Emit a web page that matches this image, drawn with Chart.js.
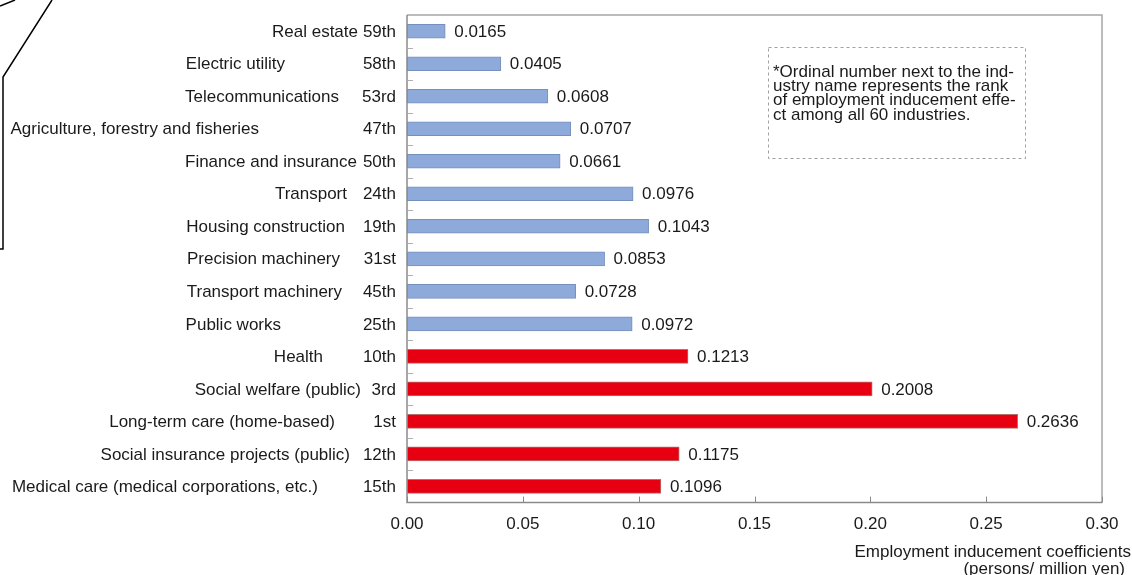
<!DOCTYPE html>
<html>
<head>
<meta charset="utf-8">
<script src="https://cdn.jsdelivr.net/npm/chart.js@4.4.1/dist/chart.umd.min.js"></script>
<style>
  html, body { margin: 0; padding: 0; background: #fff; }
  #wrap { position: relative; width: 1132px; height: 575px; }
</style>
</head>
<body>
<div id="wrap"><canvas id="chart" width="1132" height="575"></canvas></div>
<script>
/* Datos: coeficientes de inducción de empleo por industria */
const industries = [
  'Real estate', 'Electric utility', 'Telecommunications',
  'Agriculture, forestry and fisheries', 'Finance and insurance', 'Transport',
  'Housing construction', 'Precision machinery', 'Transport machinery',
  'Public works', 'Health', 'Social welfare (public)',
  'Long-term care (home-based)', 'Social insurance projects (public)',
  'Medical care (medical corporations, etc.)'
];
const ranks = ['59th', '58th', '53rd', '47th', '50th', '24th', '19th', '31st',
               '45th', '25th', '10th', '3rd', '1st', '12th', '15th'];
const coefficients = [0.0165, 0.0405, 0.0608, 0.0707, 0.0661, 0.0976, 0.1043,
                      0.0853, 0.0728, 0.0972, 0.1213, 0.2008, 0.2636, 0.1175, 0.1096];
const isCare = [false, false, false, false, false, false, false, false, false,
                false, true, true, true, true, true];
const xTicks = [0, 0.05, 0.10, 0.15, 0.20, 0.25, 0.30];
const axisTitle = ['Employment inducement coefficients', '(persons/ million yen)'];
const noteLines = [
  '*Ordinal number next to the ind-',
  'ustry name represents the rank',
  'of employment inducement effe-',
  'ct among all 60 industries.'
];

(function () {
  const FONT = "'Liberation Sans', Arial, sans-serif";
  const TEXT = '#1a1a1a';

  // fin (borde derecho) de cada nombre, como en el original
  const nameEnds = [358, 285, 339, 259, 357, 347, 345, 340, 342, 281, 323, 361, 335, 350, 318];

  const decor = {
    id: 'decor',
    afterDraw(chart) {
      const { ctx, chartArea: a, scales: { x, y } } = chart;
      ctx.save();

      // marco del área de trazado
      ctx.strokeStyle = '#a6a6a6';
      ctx.lineWidth = 1.5;
      ctx.beginPath();
      ctx.moveTo(a.left, a.top); ctx.lineTo(a.right, a.top); ctx.lineTo(a.right, a.bottom);
      ctx.stroke();
      ctx.strokeStyle = '#8a8a8a';
      ctx.beginPath();
      ctx.moveTo(a.left, a.top); ctx.lineTo(a.left, a.bottom); ctx.lineTo(a.right, a.bottom);
      ctx.stroke();

      // marcas del eje x hacia dentro
      ctx.lineWidth = 1;
      ctx.strokeStyle = '#8a8a8a';
      xTicks.forEach(v => {
        const px = Math.round(x.getPixelForValue(v)) + 0.5;
        ctx.beginPath(); ctx.moveTo(px, a.bottom); ctx.lineTo(px, a.bottom - 6); ctx.stroke();
      });
      // marcas entre categorías en el eje y
      ctx.strokeStyle = '#b0b0b0';
      for (let i = 0; i < industries.length - 1; i++) {
        const py = Math.round(y.getPixelForValue(i + 0.5)) + 0.5;
        ctx.beginPath(); ctx.moveTo(a.left, py); ctx.lineTo(a.left + 6, py); ctx.stroke();
      }

      // nombres + rango
      ctx.font = '17px ' + FONT;
      ctx.fillStyle = TEXT;
      ctx.textBaseline = 'middle';
      industries.forEach((name, i) => {
        const py = y.getPixelForValue(i) + 1;
        ctx.textAlign = 'right';
        ctx.fillText(name, nameEnds[i], py);
        ctx.fillText(ranks[i], 396, py);
      });

      // valores al final de cada barra
      ctx.textAlign = 'left';
      coefficients.forEach((v, i) => {
        ctx.fillText(v.toFixed(4), x.getPixelForValue(v) + 9, y.getPixelForValue(i) + 1);
      });

      // título del eje x
      ctx.textAlign = 'right';
      ctx.fillText(axisTitle[0], 1131, 552);
      ctx.fillText(axisTitle[1], 1125, 569);

      // nota en recuadro discontinuo
      ctx.strokeStyle = '#a0a0a0';
      ctx.setLineDash([3, 3]);
      ctx.strokeRect(768.5, 47.5, 257, 111);
      ctx.setLineDash([]);
      ctx.textAlign = 'left';
      noteLines.forEach((line, i) => ctx.fillText(line, 773, 72 + i * 14.4));

      // forma recortada arriba a la izquierda
      ctx.strokeStyle = '#000';
      ctx.lineWidth = 1.5;
      ctx.beginPath();
      ctx.moveTo(52, 0); ctx.lineTo(3, 77); ctx.lineTo(3, 249); ctx.lineTo(0, 249);
      ctx.stroke();
      ctx.beginPath();
      ctx.moveTo(0, 6); ctx.lineTo(15, 0);
      ctx.stroke();

      ctx.restore();
    }
  };

  new Chart(document.getElementById('chart').getContext('2d'), {
    type: 'bar',
    data: {
      labels: industries,
      datasets: [{
        data: coefficients,
        backgroundColor: isCare.map(c => c ? '#e60012' : '#8eaadb'),
        borderColor: isCare.map(c => c ? '#b8706c' : '#7690bd'),
        borderWidth: 1,
        borderSkipped: false,
        barThickness: 14,
      }],
    },
    options: {
      indexAxis: 'y',
      responsive: false,
      animation: false,
      layout: { padding: { left: 407, right: 30, top: 15, bottom: 28 } },
      plugins: { legend: { display: false }, tooltip: { enabled: false } },
      scales: {
        y: { display: false },
        x: {
          min: 0, max: 0.30,
          afterBuildTicks: (s) => { s.ticks = xTicks.map(v => ({ value: v })); },
          grid: { display: false, drawTicks: false },
          border: { display: false },
          ticks: {
            color: TEXT, padding: 12,
            font: { family: FONT, size: 17 },
            callback: (v) => Number(v).toFixed(2),
          },
        },
      },
    },
    plugins: [decor],
  });
})();
</script>
</body>
</html>
